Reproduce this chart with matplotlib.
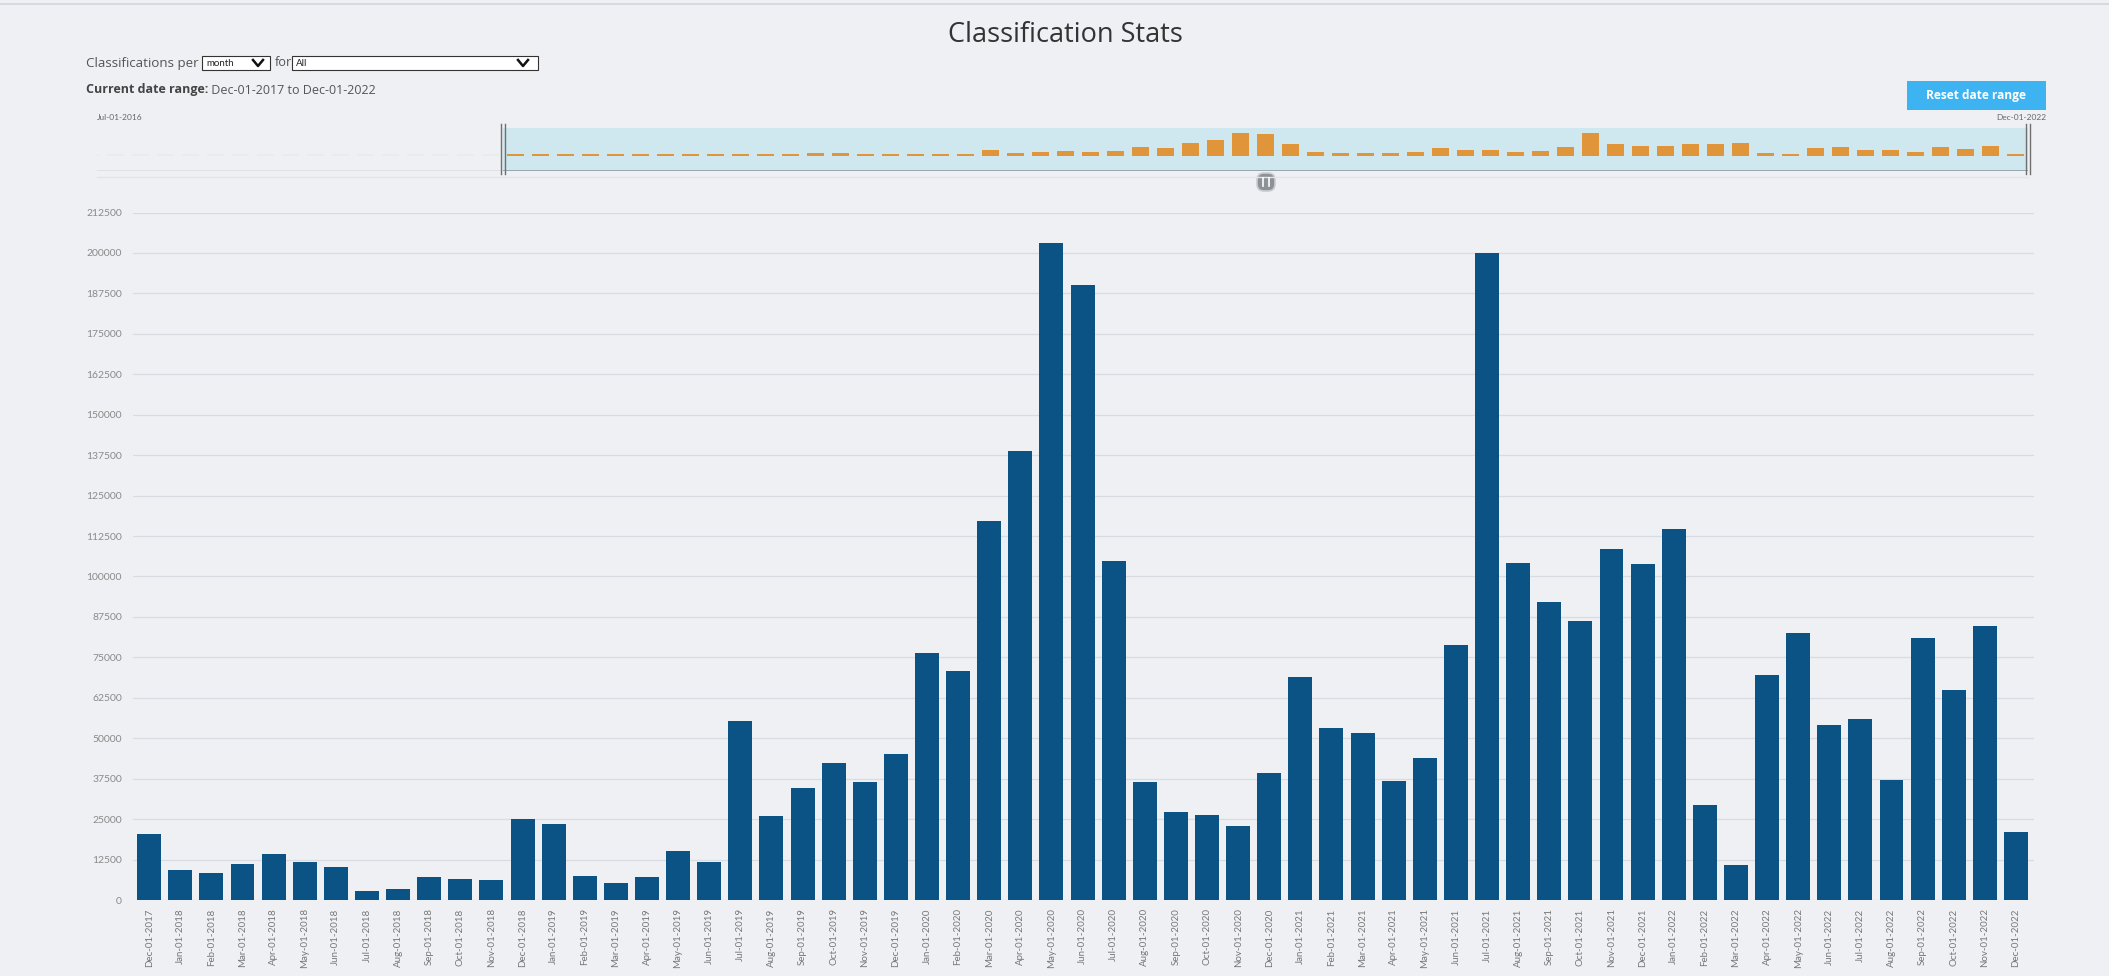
import numpy as np
import pandas as pd
import matplotlib
matplotlib.use('Agg')
import matplotlib.pyplot as plt
from matplotlib.patches import Rectangle, FancyBboxPatch

W, H = 2109, 976

# --- data ---
months = pd.date_range('2017-12-01', '2022-12-01', freq='MS').strftime('%b-%d-%Y').tolist()
classifications = [
    20400,
    9400, 8500, 11000, 14300, 11900, 10200, 2700, 3400, 7100, 6600, 6300, 24900,
    23400, 7400, 5200, 7000, 15100, 11600, 55300, 26000, 34700, 42200, 36400, 45100,
    76200, 70800, 117000, 138700, 203000, 190100, 104700, 36500, 27300, 26300, 23000, 39300,
    68900, 53100, 51500, 36700, 43800, 78700, 199900, 104300, 92100, 86100, 108500, 103900,
    114700, 29500, 10800, 69400, 82500, 54200, 56100, 37000, 81100, 65000, 84600, 21100,
]
# months before the selected range (Jul-2016 .. Nov-2017), shown only in the overview
early_classifications = [0, 0, 0, 0, 0, 0, 0, 0, 1200, 1000, 0, 0, 0, 0, 1500, 1800, 1500]
y_ticks = list(range(0, 212501, 12500))

plt.rcParams['font.family'] = ['Lato', 'DejaVu Sans']
ui_font = ['Open Sans', 'DejaVu Sans']

bg = '#eef0f4'
fig = plt.figure(figsize=(W / 100, H / 100), dpi=100, facecolor=bg)


def box(l, t, r, b):
    # pixel box -> figure fraction rect
    return [l / W, 1 - b / H, (r - l) / W, (b - t) / H]


# --- main bar chart ---
ax = fig.add_axes(box(133, 212.5, 2034, 900))
ax.set_facecolor(bg)
x = np.arange(len(months))
ax.bar(x, classifications, width=0.77, color='#0b5384', zorder=3)
ax.set_xlim(-0.52, len(months) - 1 + 0.58)
ax.set_ylim(0, 212500)
ax.set_yticks(y_ticks)
ax.set_yticklabels([str(t) for t in y_ticks])
ax.grid(axis='y', color='#d8dbe1', lw=0.9, zorder=0)
ax.set_xticks(x)
ax.set_xticklabels(months, rotation=90)
ax.tick_params(axis='y', length=0, pad=8, labelsize=7.5, labelcolor='#8a8a8a')
ax.tick_params(axis='x', length=0, pad=6, labelsize=7, labelcolor='#777777')
for s in ax.spines.values():
    s.set_visible(False)

# --- overview strip ---
ov = fig.add_axes(box(97, 128, 2028, 171))
ov.patch.set_alpha(0)
all_vals = np.array(early_classifications + classifications)
n_early = len(early_classifications)
ox = np.arange(len(all_vals))
shown = np.maximum(all_vals, 18000)  # thin bars still show as a dash
ov.set_xlim(0.26, len(all_vals) - 0.5)
ov.set_ylim(-132000, 247000)
ov.axvspan(n_early - 0.5, len(all_vals) - 0.5, color='#cfe7ee', zorder=0)
ov.bar(ox[:n_early], shown[:n_early], width=0.65, color='#e9ebee', zorder=2)
ov.bar(ox[n_early:], shown[n_early:], width=0.65, color='#e0953a', zorder=2)
ov.hlines(-132000, 0.26, n_early - 0.5, color='#dcdfe4', lw=1.2)
ov.hlines(-132000, n_early - 0.5, len(all_vals) - 0.5, color='#8c9ca3', lw=1.2)
ov.axis('off')

# --- page furniture in pixel coords ---
ui = fig.add_axes([0, 0, 1, 1])
ui.set_xlim(0, W)
ui.set_ylim(H, 0)
ui.axis('off')
ui.patch.set_alpha(0)

ui.plot([0, W], [4, 4], color='#d6d9de', lw=1.5)
ui.text(1065, 35, 'Classification Stats', ha='center', va='center', fontsize=19.5,
        color='#333333', family=ui_font)

ui.text(86, 63, 'Classifications per', ha='left', va='center', fontsize=9.6,
        color='#555555', family=ui_font)
ui.add_patch(Rectangle((202, 56), 68, 14, fc='white', ec='#333333', lw=0.8))
ui.text(206, 63, 'month', ha='left', va='center', fontsize=7, color='#222222')
ui.plot([253, 258, 263], [60, 66, 60], color='#111111', lw=1.8)
ui.text(275, 63, 'for', ha='left', va='center', fontsize=9.2, color='#555555', family=ui_font)
ui.add_patch(Rectangle((292, 56), 246, 14, fc='white', ec='#333333', lw=0.8))
ui.text(296, 63, 'All', ha='left', va='center', fontsize=7, color='#222222')
ui.plot([518, 523, 528], [60, 66, 60], color='#111111', lw=1.8)

t1 = ui.text(86, 90, 'Current date range:', ha='left', va='center', fontsize=9,
             fontweight='bold', color='#444444', family=ui_font)
ui.annotate(' Dec-01-2017 to Dec-01-2022', xy=(1, 0.5), xycoords=t1, va='center',
            fontsize=9, color='#555555', family=ui_font)

ui.add_patch(Rectangle((1907, 81), 139, 29, fc='#3db3f1', ec='none'))
ui.text(1976, 95.5, 'Reset date range', ha='center', va='center', fontsize=8.6,
        fontweight='bold', color='white', family=ui_font)

ui.text(97, 117, 'Jul-01-2016', ha='left', va='center', fontsize=6, color='#666666')
ui.text(2046, 117, 'Dec-01-2022', ha='right', va='center', fontsize=6, color='#666666')

# brush edges, track and handle
for ex in (501, 505, 2026, 2030):
    ui.plot([ex, ex], [124, 174], color='#707070', lw=1)
ui.plot([97, 2028], [177, 177], color='#e1e4e8', lw=1)
ui.add_patch(FancyBboxPatch((1257, 173), 18, 18, boxstyle='round,pad=0,rounding_size=7',
                            fc='#8d9297', ec='#c9ccd0', lw=1.2))
ui.plot([1263, 1263], [178, 186], color='white', lw=1.2)
ui.plot([1269, 1269], [178, 186], color='white', lw=1.2)

fig.savefig('out.png', dpi=100, facecolor=bg)
